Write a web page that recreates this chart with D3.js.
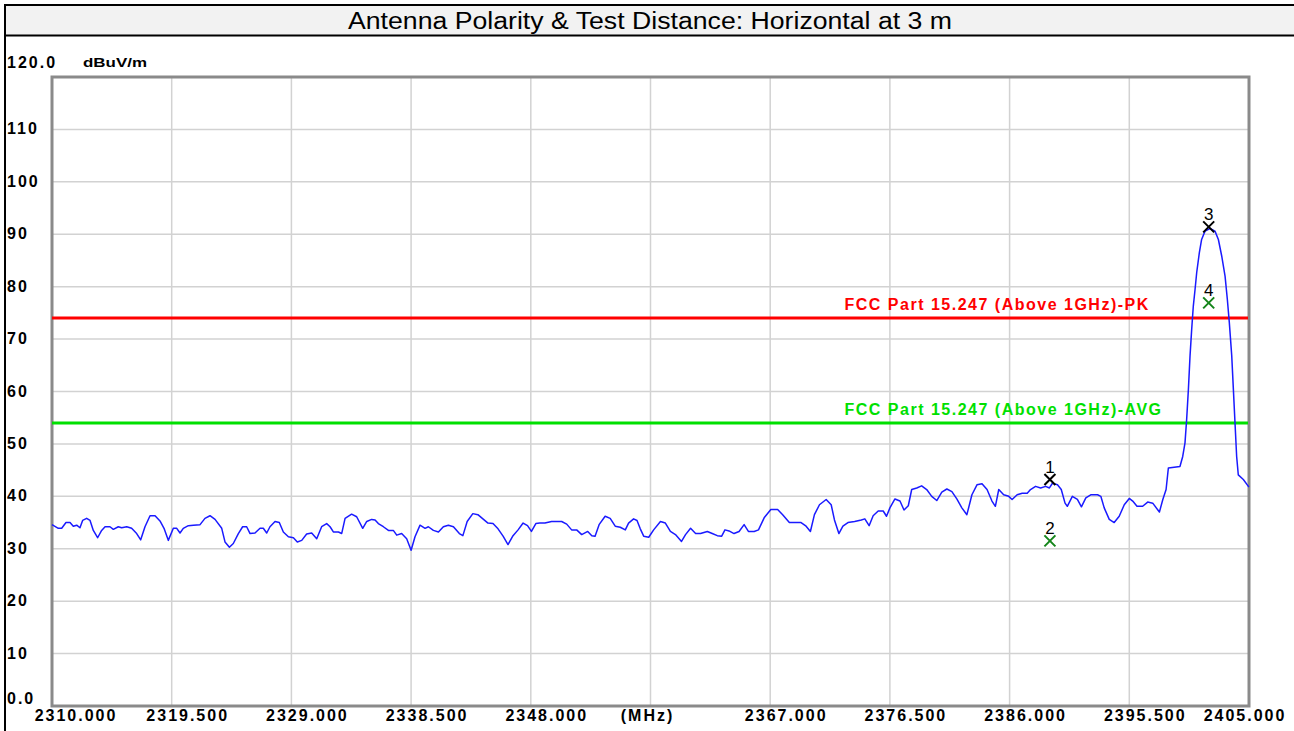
<!DOCTYPE html>
<html>
<head>
<meta charset="utf-8">
<script src="https://cdn.jsdelivr.net/npm/d3@7"></script>
<style>
  html, body { margin: 0; padding: 0; background: #fff; }
  svg { display: block; }
  text { font-family: "Liberation Sans", Arial, sans-serif; }
</style>
</head>
<body>
<div id="canvas"></div>
<script>
const title = "Antenna Polarity & Test Distance: Horizontal at 3 m";
const yUnit = "dBuV/m";

// trace (MHz / dBuV/m)
const traceFreq = [
  2310.00, 2310.50, 2310.77, 2311.11, 2311.43, 2311.69, 2311.96, 2312.22, 2312.43, 2312.75,
  2313.02, 2313.28, 2313.62, 2313.94, 2314.21, 2314.60, 2314.87, 2315.26, 2315.53, 2315.93,
  2316.32, 2316.72, 2317.04, 2317.38, 2317.78, 2318.18, 2318.57, 2318.89, 2319.23, 2319.63,
  2319.90, 2320.16, 2320.42, 2320.82, 2321.22, 2321.75, 2322.14, 2322.54, 2322.94, 2323.47,
  2323.73, 2324.08, 2324.39, 2324.79, 2325.13, 2325.45, 2325.72, 2326.11, 2326.51, 2326.77,
  2327.04, 2327.30, 2327.70, 2328.04, 2328.36, 2328.76, 2329.16, 2329.47, 2329.82, 2330.21,
  2330.61, 2331.01, 2331.40, 2331.80, 2332.07, 2332.33, 2332.73, 2332.99, 2333.26, 2333.78,
  2334.18, 2334.66, 2334.98, 2335.37, 2335.64, 2335.90, 2336.30, 2336.70, 2337.09, 2337.36,
  2337.75, 2338.15, 2338.50, 2338.81, 2339.21, 2339.61, 2339.87, 2340.27, 2340.67, 2341.06,
  2341.46, 2341.86, 2342.33,
  2342.61, 2342.95, 2343.40, 2343.80, 2344.20, 2344.60, 2345.00, 2345.40, 2345.80, 2346.19,
  2346.59, 2346.99, 2347.39, 2347.74, 2348.05, 2348.40, 2348.72, 2349.12, 2349.65, 2350.45,
  2350.85, 2351.24, 2351.64, 2352.04, 2352.52, 2352.84, 2353.10, 2353.42, 2353.90, 2354.30,
  2354.70, 2355.10, 2355.50, 2355.76, 2356.16, 2356.43, 2356.69, 2356.96, 2357.36, 2357.75,
  2358.29, 2358.68, 2359.08, 2359.48, 2359.96, 2360.28, 2360.68, 2361.08, 2361.47, 2362.01,
  2362.40, 2362.80, 2363.15, 2363.41, 2363.73, 2364.13, 2364.53, 2364.93, 2365.27, 2365.73,
  2366.07, 2366.52, 2367.05, 2367.59, 2367.99, 2368.52, 2369.05, 2369.45, 2369.85, 2370.19,
  2370.51, 2370.91, 2371.44, 2371.84, 2372.10, 2372.45, 2372.77, 2373.17, 2373.70, 2374.23,
  2374.51, 2374.85, 2375.17, 2375.57, 2375.97, 2376.23, 2376.50, 2376.90, 2377.30, 2377.62,
  2377.96, 2378.23, 2378.63, 2379.02, 2379.42, 2379.82, 2380.22, 2380.62, 2381.02, 2381.42,
  2381.81, 2382.21, 2382.61, 2383.01, 2383.41, 2383.81, 2384.21, 2384.60, 2384.87, 2385.14,
  2385.53, 2385.93, 2386.20, 2386.60, 2387.00, 2387.40, 2387.66, 2388.06, 2388.46, 2388.86,
  2389.16, 2389.40, 2389.80, 2390.10, 2390.40, 2390.58, 2390.98, 2391.38, 2391.70, 2392.05,
  2392.44, 2392.98, 2393.24, 2393.51, 2393.91, 2394.30, 2394.70, 2395.10, 2395.50, 2395.77,
  2396.11, 2396.56, 2396.96, 2397.36, 2397.89, 2398.16, 2398.42,
  2398.60, 2399.52, 2399.74, 2399.92, 2400.05, 2400.19, 2400.32, 2400.45, 2400.58, 2400.72,
  2400.85, 2401.06, 2401.24, 2401.51, 2401.91, 2402.30, 2402.57, 2402.83, 2403.10, 2403.28,
  2403.44, 2403.63, 2403.76, 2403.89, 2404.02, 2404.15, 2404.55, 2404.95, 2405.00
];
const traceLevel = [
  34.6, 33.9, 33.9, 35.0, 35.0, 34.3, 34.5, 34.0, 35.4, 35.8,
  35.4, 33.5, 32.1, 33.5, 34.2, 34.2, 33.7, 34.2, 34.0, 34.2,
  33.9, 32.9, 31.7, 34.2, 36.3, 36.3, 35.3, 33.9, 31.6, 33.9,
  33.9, 33.0, 33.9, 34.4, 34.5, 34.6, 35.8, 36.3, 35.6, 33.9,
  31.3, 30.3, 31.0, 32.9, 34.2, 34.2, 32.9, 33.0, 33.9, 33.9,
  33.0, 34.2, 35.2, 35.0, 33.2, 32.3, 32.1, 31.3, 31.6, 32.8,
  33.0, 31.9, 34.2, 34.8, 34.2, 33.2, 33.2, 32.9, 35.8, 36.6,
  36.1, 33.9, 35.2, 35.6, 35.5, 34.8, 34.2, 33.5, 33.5, 32.6,
  32.9, 31.9, 29.7, 32.3, 34.5, 33.9, 34.2, 33.5, 33.2, 34.2,
  34.5, 34.2, 32.9,
  32.5, 35.2, 36.7, 36.5, 35.7, 34.9, 34.8, 33.8, 32.4, 30.8,
  32.5, 33.6, 34.9, 34.4, 33.3, 34.8, 34.9, 34.9, 35.2, 35.2,
  34.7, 33.6, 33.6, 32.7, 33.3, 32.5, 32.4, 34.6, 36.2, 35.8,
  34.3, 34.1, 33.6, 34.9, 35.7, 35.4, 33.8, 32.4, 32.2, 33.6,
  35.2, 34.9, 33.3, 32.7, 31.4, 32.7, 33.9, 32.9, 32.9, 33.3,
  32.9, 32.5, 32.4, 33.6, 33.4, 32.9, 33.3, 34.6, 33.3, 33.3,
  33.6, 35.9, 37.5, 37.5, 36.5, 35.0, 35.0, 35.0, 34.3, 33.3,
  36.5, 38.4, 39.4, 38.4, 35.5, 32.9, 34.3, 35.0, 35.2, 35.5,
  35.7, 34.4, 36.3, 37.2, 37.2, 36.2, 37.8, 39.5, 39.1, 37.4,
  38.2, 41.3, 41.6, 42.0, 41.3, 40.0, 39.2, 40.8, 41.4, 40.9,
  39.5, 37.8, 36.5, 40.3, 42.2, 42.4, 41.3, 39.1, 38.1, 41.3,
  40.3, 40.0, 39.4, 40.3, 40.6, 40.6, 41.3, 41.9, 41.6, 41.9,
  41.6, 42.5, 42.2, 41.3, 38.7, 38.1, 40.0, 39.4, 38.0, 39.7,
  40.3, 40.3, 40.0, 37.8, 35.6, 35.0, 36.2, 38.4, 39.6, 39.1,
  38.1, 38.1, 38.9, 38.7, 37.0, 39.4, 41.3,
  45.4, 45.7, 47.6, 50.2, 54.6, 60.4, 66.8, 71.8, 76.3, 79.5,
  82.7, 86.5, 89.0, 90.6, 91.1, 90.6, 89.0, 85.9, 82.0, 77.6,
  73.1, 66.8, 60.4, 54.0, 47.6, 44.1, 43.2, 41.9, 41.8
];

// limit lines
const limitLabels = ["FCC Part 15.247 (Above 1GHz)-PK", "FCC Part 15.247 (Above 1GHz)-AVG"];
const limitValues = [74, 54];
const limitTextFreq = 2372.9;

// markers
const markerIds = ["1", "2", "3", "4"];
const markerFreq = [2389.2, 2389.2, 2401.8, 2401.8];
const markerLevel = [43.2, 31.5, 91.4, 76.9];
const markerDetector = ["PK", "AVG", "PK", "AVG"];

// axes
const xTicks = d3.range(0, 11).map(i => 2310 + i * 9.5);
const xTickLabels = ["2310.000", "2319.500", "2329.000", "2338.500", "2348.000", "(MHz)",
  "2367.000", "2376.500", "2386.000", "2395.500", "2405.000"];
const yTicks = d3.range(0, 121, 10);
const yTickLabels = ["0.0", "10", "20", "30", "40", "50", "60", "70", "80", "90", "100", "110", "120.0"];

const width = 1294, height = 731;
const plot = { left: 52, right: 1249, top: 77, bottom: 706 };

const svg = d3.select("#canvas").append("svg")
  .attr("width", width)
  .attr("height", height);

svg.append("rect").attr("width", width).attr("height", height).attr("fill", "#fff");

// title band + outer frame
svg.append("rect")
  .attr("x", 5).attr("y", 5)
  .attr("width", width + 10).attr("height", 30.5)
  .attr("fill", "#f2f2f2")
  .attr("stroke", "#000")
  .attr("stroke-width", 2);
svg.append("line")
  .attr("x1", 5).attr("x2", 5)
  .attr("y1", 5).attr("y2", height)
  .attr("stroke", "#000")
  .attr("stroke-width", 2);
svg.append("text")
  .attr("x", 650).attr("y", 28.5)
  .attr("text-anchor", "middle")
  .attr("font-size", 23.5)
  .attr("fill", "#000")
  .attr("textLength", 604)
  .attr("lengthAdjust", "spacingAndGlyphs")
  .text(title);

const x = d3.scaleLinear().domain([2310, 2405]).range([plot.left, plot.right]);
const y = d3.scaleLinear().domain([0, 120]).range([plot.bottom, plot.top]);

// grid
const grid = svg.append("g").attr("stroke", "#d2d2d2").attr("stroke-width", 1.5);
grid.selectAll(".vg")
  .data(xTicks.slice(1, -1))
  .enter().append("line")
  .attr("x1", d => x(d)).attr("x2", d => x(d))
  .attr("y1", plot.top).attr("y2", plot.bottom);
grid.selectAll(".hg")
  .data(yTicks.slice(1, -1))
  .enter().append("line")
  .attr("x1", plot.left).attr("x2", plot.right)
  .attr("y1", d => y(d)).attr("y2", d => y(d));

// plot frame
svg.append("rect")
  .attr("x", plot.left).attr("y", plot.top)
  .attr("width", plot.right - plot.left).attr("height", plot.bottom - plot.top)
  .attr("fill", "none")
  .attr("stroke", "#8a8a8a")
  .attr("stroke-width", 3);

// limit lines
const limitColors = ["#ff0000", "#00e000"];
limitValues.forEach((v, i) => {
  svg.append("line")
    .attr("x1", plot.left).attr("x2", plot.right - 1)
    .attr("y1", y(v)).attr("y2", y(v))
    .attr("stroke", limitColors[i])
    .attr("stroke-width", 3);
  svg.append("text")
    .attr("x", x(limitTextFreq))
    .attr("y", y(v) - 8)
    .attr("font-size", 16)
    .attr("font-weight", "bold")
    .attr("letter-spacing", 1.5)
    .attr("fill", limitColors[i])
    .text(limitLabels[i]);
});

// trace
const trace = traceFreq.map((f, i) => [f, traceLevel[i]]);
svg.append("path")
  .datum(trace)
  .attr("fill", "none")
  .attr("stroke", "#1a1aff")
  .attr("stroke-width", 1.5)
  .attr("stroke-linejoin", "round")
  .attr("d", d3.line().x(d => x(d[0])).y(d => y(d[1])));

// markers
const mk = svg.selectAll(".marker")
  .data(markerIds.map((id, i) => ({ id, f: markerFreq[i], v: markerLevel[i], det: markerDetector[i] })))
  .enter().append("g")
  .attr("class", "marker")
  .attr("transform", d => `translate(${x(d.f)},${y(d.v)})`);
mk.append("path")
  .attr("d", "M-5.5,-5.5L5.5,5.5M5.5,-5.5L-5.5,5.5")
  .attr("fill", "none")
  .attr("stroke", d => d.det === "PK" ? "#000" : "#14851a")
  .attr("stroke-width", 2);
mk.append("text")
  .attr("x", 0).attr("y", -7)
  .attr("text-anchor", "middle")
  .attr("font-size", 17)
  .attr("fill", "#000")
  .text(d => d.id);

// tick labels
svg.append("g").selectAll("text")
  .data(xTicks)
  .enter().append("text")
  .attr("x", (d, i) => {
    if (i === 0) return x(d) + 24;
    if (i === xTicks.length - 1) return x(d) - 4;
    if (xTickLabels[i] === "(MHz)") return x(d) - 3;
    return x(d) + 16;
  })
  .attr("y", 721)
  .attr("text-anchor", "middle")
  .attr("font-size", 16)
  .attr("font-weight", "bold")
  .attr("letter-spacing", 2)
  .attr("fill", "#000")
  .text((d, i) => xTickLabels[i]);

svg.append("g").selectAll("text")
  .data(yTicks)
  .enter().append("text")
  .attr("x", 7)
  .attr("y", (d, i) => {
    if (i === 0) return y(d) - 2;
    if (i === yTicks.length - 1) return y(d) - 9;
    return y(d) + 5;
  })
  .attr("font-size", 16)
  .attr("font-weight", "bold")
  .attr("letter-spacing", 2)
  .attr("fill", "#000")
  .text((d, i) => yTickLabels[i]);

svg.append("text")
  .attr("x", 83).attr("y", 67)
  .attr("font-size", 13)
  .attr("font-weight", "bold")
  .attr("textLength", 64)
  .attr("lengthAdjust", "spacingAndGlyphs")
  .attr("fill", "#000")
  .text(yUnit);
</script>
</body>
</html>
